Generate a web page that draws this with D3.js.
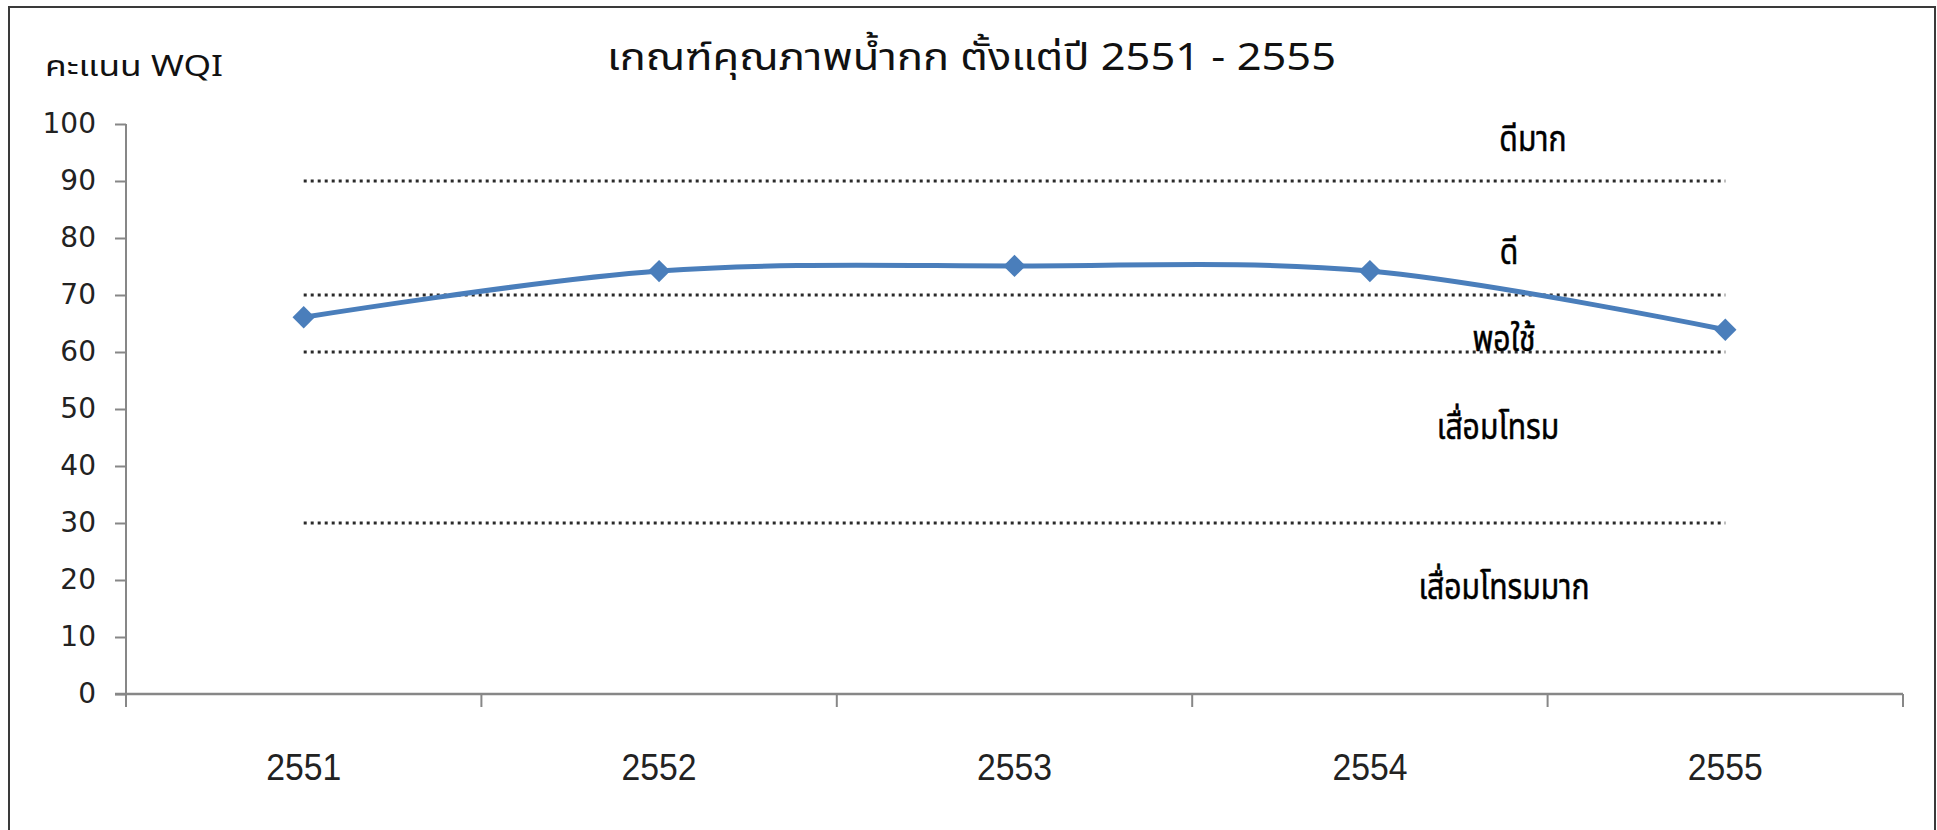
<!DOCTYPE html>
<html>
<head>
<meta charset="utf-8">
<script src="https://cdn.jsdelivr.net/npm/d3@7/dist/d3.min.js"></script>
<style>
  html, body { margin: 0; padding: 0; background: #fff; }
  svg { display: block; }
</style>
</head>
<body>
<svg id="chart" width="1937" height="830"></svg>
<script>
// ---- data ----
const years = ["2551", "2552", "2553", "2554", "2555"];
const wqi = [66.1, 74.2, 75.1, 74.2, 63.9];
const thresholds = [90, 70, 60, 30];
const zoneLabels = ["ดีมาก", "ดี", "พอใช้", "เสื่อมโทรม", "เสื่อมโทรมมาก"];
const zoneLabelValues = [97.5, 77.6, 62.4, 46.8, 18.8];
const yTicks = [0, 10, 20, 30, 40, 50, 60, 70, 80, 90, 100];
const titleText = "เกณฑ์คุณภาพน้ำกก ตั้งแต่ปี 2551 - 2555";
const yTitleText = "คะแนน WQI";

// ---- layout ----
const W = 1937, H = 830;
const plot = { left: 126, right: 1903, top: 124, bottom: 694 };
const thaiFont = "'Noto Sans Thai', 'Noto Sans Thai UI', Tahoma, 'DejaVu Sans', 'Noto Sans', sans-serif";

const svg = d3.select("#chart");

// outer border
svg.append("rect")
  .attr("x", 9).attr("y", 7).attr("width", 1926).attr("height", 900)
  .attr("fill", "#fff").attr("stroke", "#3a3a3a").attr("stroke-width", 2);

const x = d3.scaleBand().domain(years).range([plot.left, plot.right]).padding(0);
const y = d3.scaleLinear().domain([0, 100]).range([plot.bottom, plot.top]);
const cx = d => x(d) + x.bandwidth() / 2;

// y axis
const yAxis = svg.append("g")
  .attr("transform", `translate(${plot.left},0)`)
  .call(d3.axisLeft(y).tickValues(yTicks).tickSize(11).tickPadding(19).tickSizeOuter(0));
yAxis.select(".domain").remove();
yAxis.selectAll(".tick line").attr("stroke", "#878787").attr("stroke-width", 2);
yAxis.selectAll(".tick text")
  .attr("font-family", "'DejaVu Sans', sans-serif")
  .attr("font-size", 28)
  .attr("fill", "#222");
svg.append("line")
  .attr("x1", plot.left).attr("x2", plot.left)
  .attr("y1", y(100)).attr("y2", plot.bottom + 13)
  .attr("stroke", "#878787").attr("stroke-width", 2);

// x axis
const xAxis = svg.append("g")
  .attr("transform", `translate(0,${plot.bottom})`)
  .call(d3.axisBottom(x).tickSize(0).tickPadding(60).tickSizeOuter(0));
xAxis.select(".domain").remove();
xAxis.selectAll(".tick text")
  .attr("font-family", "'Liberation Sans', Arial, sans-serif")
  .attr("font-size", 36)
  .attr("fill", "#222")
  .attr("textLength", 75)
  .attr("lengthAdjust", "spacingAndGlyphs");
svg.append("line")
  .attr("x1", plot.left - 11).attr("x2", plot.right)
  .attr("y1", plot.bottom).attr("y2", plot.bottom)
  .attr("stroke", "#878787").attr("stroke-width", 2.5);
const boundaries = years.map(d => x(d)).concat([x(years[years.length - 1]) + x.bandwidth()]);
svg.append("g").selectAll("line").data(boundaries).join("line")
  .attr("x1", d => d).attr("x2", d => d)
  .attr("y1", plot.bottom).attr("y2", plot.bottom + 13)
  .attr("stroke", "#878787").attr("stroke-width", 2);

// threshold dotted lines (constant series across categories)
const flatLine = d3.line().x(d => cx(d[0])).y(d => y(d[1]));
svg.append("g").selectAll("path").data(thresholds).join("path")
  .attr("d", t => flatLine(years.map(yr => [yr, t])))
  .attr("fill", "none")
  .attr("stroke", "#2a2a2a")
  .attr("stroke-width", 3)
  .attr("stroke-dasharray", "3,4");

// main series
const line = d3.line()
  .x((d, i) => cx(years[i]))
  .y(d => y(d))
  .curve(d3.curveCardinal.tension(0));
svg.append("path")
  .attr("d", line(wqi))
  .attr("fill", "none")
  .attr("stroke", "#4a7ebb")
  .attr("stroke-width", 5)
  .attr("stroke-linejoin", "round");
svg.append("g").selectAll("path").data(wqi).join("path")
  .attr("transform", (d, i) => `translate(${cx(years[i])},${y(d)}) rotate(45)`)
  .attr("d", d3.symbol().type(d3.symbolSquare).size(250)())
  .attr("fill", "#4a7ebb");

// zone labels (condensed, tall)
const labelX = [1533, 1509, 1504, 1498, 1504];
const zl = svg.append("g").selectAll("text").data(zoneLabels).join("text")
  .attr("x", (d, i) => labelX[i])
  .attr("y", (d, i) => y(zoneLabelValues[i]))
  .attr("dy", "0.35em")
  .attr("text-anchor", "middle")
  .attr("font-family", thaiFont)
  .attr("font-size", 35)
  .attr("fill", "#000")
  .attr("stroke", "#000")
  .attr("stroke-width", 0.5)
  .text(d => d);
zl.each(function () {
  const w = this.getComputedTextLength();
  d3.select(this).attr("textLength", w * 0.86).attr("lengthAdjust", "spacingAndGlyphs");
});

// titles
svg.append("text")
  .attr("x", 607).attr("y", 70)
  .attr("font-family", thaiFont)
  .attr("font-size", 38)
  .attr("fill", "#111")
  .attr("textLength", 729)
  .attr("lengthAdjust", "spacingAndGlyphs")
  .text(titleText);
svg.append("text")
  .attr("x", 45).attr("y", 76)
  .attr("font-family", thaiFont)
  .attr("font-size", 29)
  .attr("fill", "#111")
  .attr("textLength", 178)
  .attr("lengthAdjust", "spacingAndGlyphs")
  .text(yTitleText);
</script>
</body>
</html>
